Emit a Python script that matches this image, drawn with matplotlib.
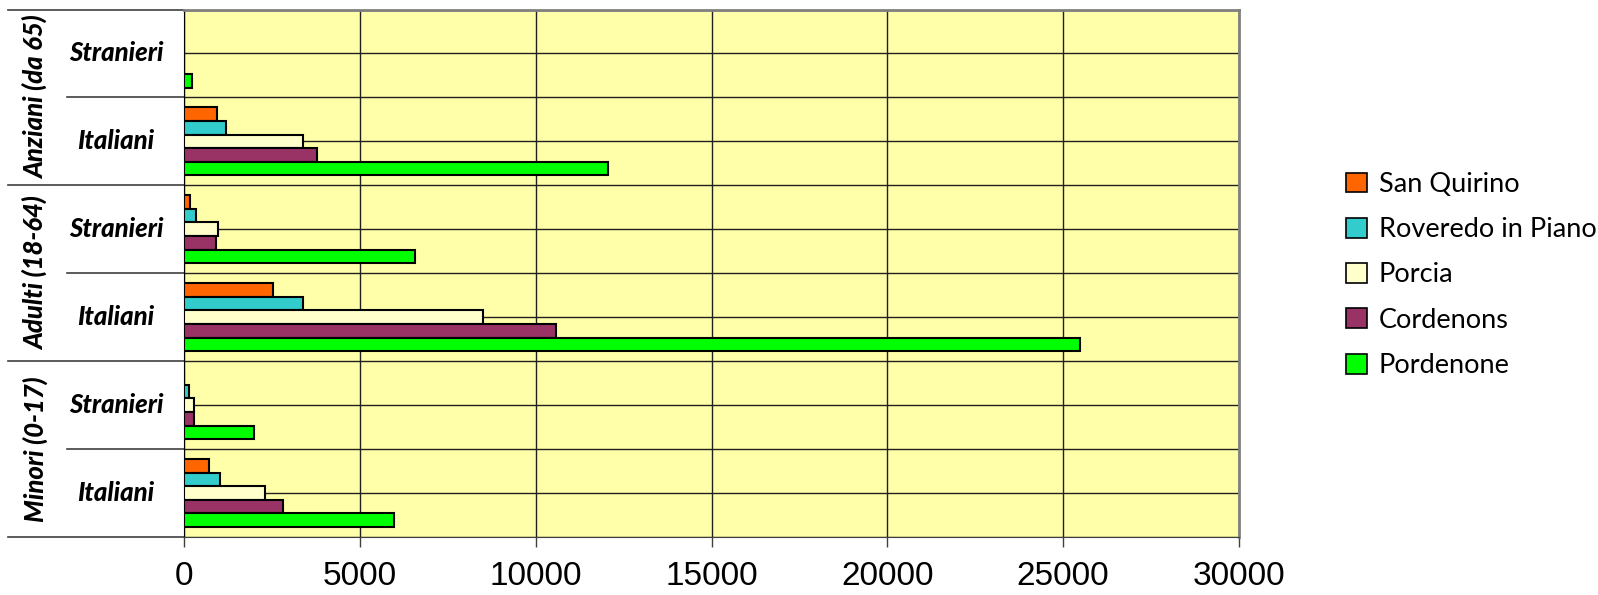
import numpy as np
import matplotlib.pyplot as plt
from matplotlib.patches import Patch
import matplotlib.transforms as mtransforms

# categories from bottom to top
groups = ['Minori (0-17)', 'Adulti (18-64)', 'Anziani (da 65)']
subcats = ['Italiani', 'Stranieri']

comuni = ['San Quirino', 'Roveredo in Piano', 'Porcia', 'Cordenons', 'Pordenone']
colors = ['#FF6600', '#33CCCC', '#FFFFCC', '#993366', '#00FF00']

# values per row: Minori Ita, Minori Str, Adulti Ita, Adulti Str, Anziani Ita, Anziani Str
san_quirino = [710, 0, 2520, 170, 940, 0]
roveredo = [1015, 130, 3370, 340, 1200, 0]
porcia = [2295, 285, 8495, 980, 3370, 0]
cordenons = [2825, 275, 10570, 920, 3790, 0]
pordenone = [5965, 1980, 25475, 6570, 12060, 230]

series = [san_quirino, roveredo, porcia, cordenons, pordenone]

fig = plt.figure(figsize=(15.98, 5.95), dpi=100)
ax = fig.add_axes([184/1598, 1-537/595, (1239-184)/1598, (537-9.5)/595])
ax.set_facecolor('#FFFFAA')

y = np.arange(6)
h = 0.155
offsets = [2, 1, 0, -1, -2]
for vals, col, off, name in zip(series, colors, offsets, comuni):
    ax.barh(y + off*h, vals, height=h, color=col, edgecolor='black', linewidth=1.5, zorder=3)

ax.set_xlim(0, 30000)
ax.set_ylim(-0.5, 5.5)
ax.set_xticks(np.arange(0, 30001, 5000))
ax.set_xticklabels([str(v) for v in range(0, 30001, 5000)],
                   family=['Liberation Sans', 'DejaVu Sans'], fontsize=24)
ax.tick_params(axis='x', length=7.2, width=1, pad=10, direction='out', color='#404040')
ax.set_yticks(np.arange(-0.5, 5.51, 0.5))
ax.set_yticklabels([])
ax.tick_params(axis='y', length=0)
ax.grid(True, color='#202020', linewidth=1, zorder=0)
ax.set_axisbelow(True)

for s in ['top', 'right']:
    ax.spines[s].set_color('#808080')
    ax.spines[s].set_linewidth(2)
ax.spines['left'].set_color('black')
ax.spines['bottom'].set_color('#404040')

# left multi-level category labels
trans = mtransforms.blended_transform_factory(ax.transAxes, ax.transData)
lab_font = dict(family=['Lato', 'DejaVu Sans'], fontweight='black', style='italic')
for i in range(6):
    ax.text(-0.0645, i, subcats[i % 2], transform=trans, ha='center', va='center',
            fontsize=18.5, **lab_font)
for g, name in enumerate(groups):
    ax.text(-0.141, 2*g + 0.5, name, transform=trans, ha='center', va='center',
            rotation=90, fontsize=18.5, **lab_font)
for yb in [-0.5, 1.5, 3.5, 5.5]:
    ax.plot([-0.167, 0], [yb, yb], transform=trans, color='#404040', lw=1.2, clip_on=False)
for yb in [0.5, 2.5, 4.5]:
    ax.plot([-0.111, 0], [yb, yb], transform=trans, color='#404040', lw=1.2, clip_on=False)

handles = [Patch(facecolor=c, edgecolor='black', linewidth=1.2, label=n) for c, n in zip(colors, comuni)]
fig.legend(handles=handles, loc='center left', bbox_to_anchor=(1322/1598, 1-275/595),
           frameon=False, prop={'family': ['Lato', 'DejaVu Sans'], 'size': 19.5},
           handlelength=0.75, handleheight=0.75, handletextpad=0.45, labelspacing=0.75)

fig.savefig('out.png', dpi=100)
